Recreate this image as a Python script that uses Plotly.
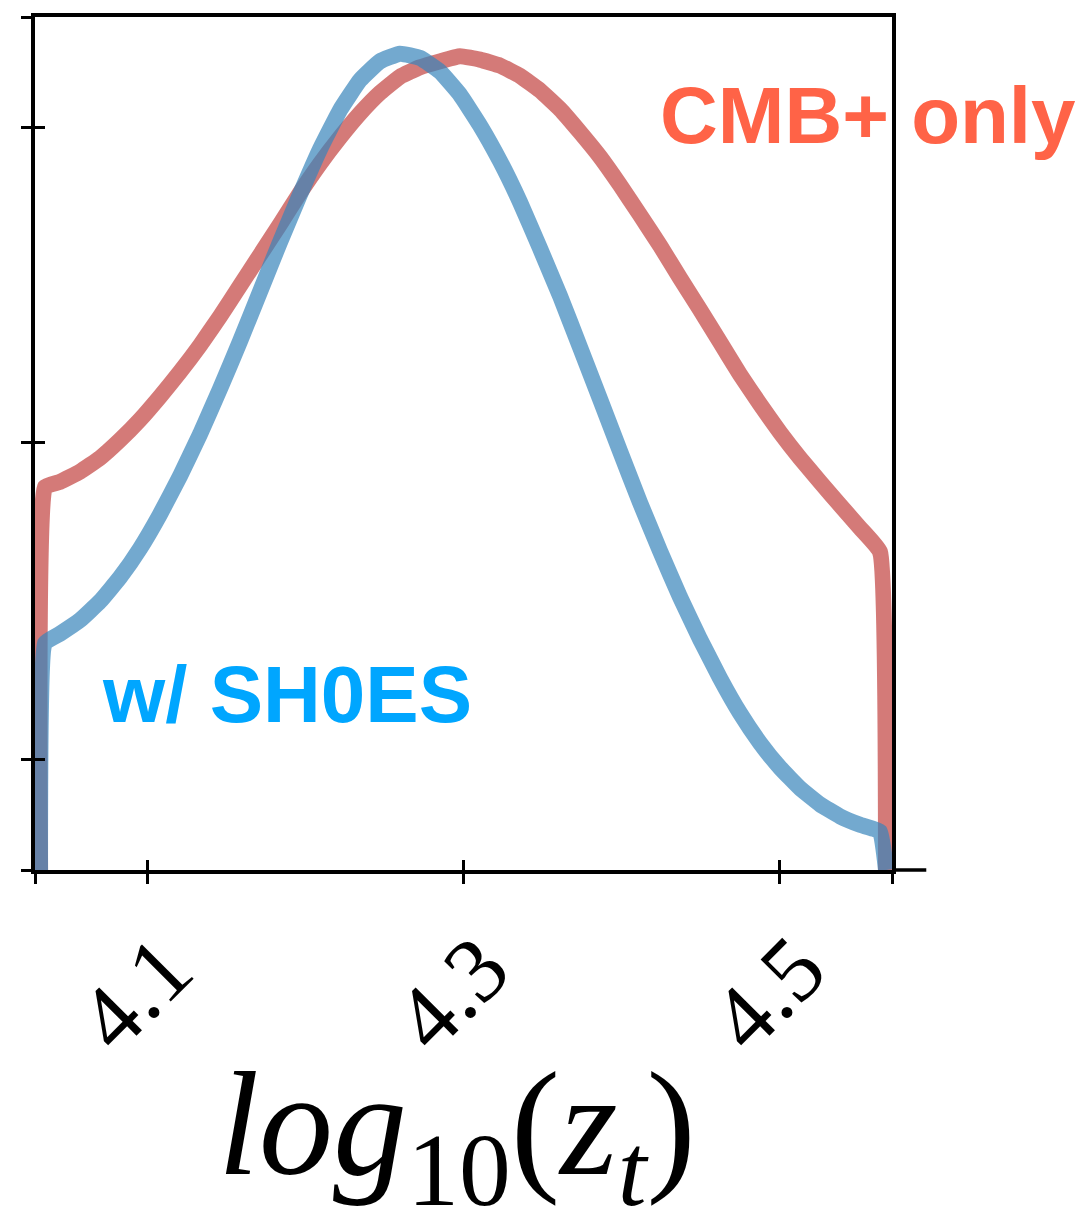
import plotly.graph_objects as go

# shared grid of log10(z_t) values
log10_zt = [4.0324, 4.0355, 4.0450, 4.0577, 4.0703, 4.0829, 4.0956, 4.1082, 4.1209,
            4.1335, 4.1461, 4.1588, 4.1714, 4.1840, 4.1967, 4.2093, 4.2220, 4.2346,
            4.2472, 4.2599, 4.2725, 4.2851, 4.2978, 4.3104, 4.3231, 4.3357, 4.3483,
            4.3610, 4.3736, 4.3863, 4.3989, 4.4115, 4.4242, 4.4368, 4.4494, 4.4621,
            4.4747, 4.4874, 4.5000, 4.5126, 4.5253, 4.5379, 4.5506, 4.5632, 4.5670]

# normalised 1D posterior, CMB+ only
p_cmb = [0.0, 0.449, 0.455, 0.467, 0.483, 0.504, 0.528, 0.555, 0.584, 0.615, 0.649,
         0.685, 0.721, 0.757, 0.794, 0.828, 0.859, 0.887, 0.911, 0.930, 0.941, 0.948,
         0.954, 0.950, 0.943, 0.931, 0.914, 0.892, 0.865, 0.836, 0.803, 0.768, 0.732,
         0.694, 0.657, 0.619, 0.581, 0.546, 0.513, 0.483, 0.455, 0.428, 0.401, 0.373, 0.0]

# normalised 1D posterior, with SH0ES
p_shoes = [0.0, 0.266, 0.277, 0.293, 0.315, 0.343, 0.377, 0.417, 0.462, 0.511, 0.564,
           0.620, 0.678, 0.736, 0.792, 0.845, 0.891, 0.926, 0.948, 0.957, 0.952, 0.936,
           0.909, 0.873, 0.831, 0.783, 0.729, 0.673, 0.613, 0.552, 0.491, 0.431, 0.374,
           0.320, 0.271, 0.225, 0.184, 0.149, 0.120, 0.096, 0.077, 0.063, 0.053, 0.045, 0.0]

x_range = [4.0292, 4.5708]
y_range = [0.0, 1.0]
x_ticks = [4.1, 4.3, 4.5]
x_tick_labels = ["4.1", "4.3", "4.5"]
y_ticks = [0.130, 0.5006, 0.871]

RED = "rgba(194,65,62,0.7)"
BLUE = "rgba(56,132,186,0.7)"

fig = go.Figure()
fig.add_trace(go.Scatter(x=log10_zt, y=p_cmb, mode="lines",
                         line=dict(color=RED, width=16, shape="spline", smoothing=0.35),
                         name="CMB+ only", showlegend=False))
fig.add_trace(go.Scatter(x=log10_zt, y=p_shoes, mode="lines",
                         line=dict(color=BLUE, width=16, shape="spline", smoothing=0.35),
                         name="w/ SH0ES", showlegend=False))
# empty trace to activate overlay axes (inside ticks)
fig.add_trace(go.Scatter(x=[], y=[], xaxis="x2", yaxis="y2", showlegend=False))

fig.update_layout(
    width=1081, height=1208,
    margin=dict(l=35, r=189, t=17, b=338),
    paper_bgcolor="white", plot_bgcolor="white",
    xaxis=dict(range=x_range, showgrid=False, zeroline=False,
               showline=True, linecolor="black", linewidth=3.5, mirror=True,
               ticks="outside", ticklen=10, tickwidth=3, tickcolor="black",
               tickvals=[x_range[0]] + x_ticks + [x_range[1]],
               ticktext=[""] + x_tick_labels + [""],
               tickangle=-45, ticklabelshift=18, ticklabelstandoff=-6,
               tickfont=dict(family="Liberation Serif", size=92, color="black")),
    yaxis=dict(range=y_range, showgrid=False, zeroline=False,
               showline=True, linecolor="black", linewidth=3.5, mirror=True,
               ticks="outside", ticklen=10, tickwidth=3, tickcolor="black",
               tickvals=[y_range[0]] + y_ticks + [y_range[1]],
               showticklabels=False),
    xaxis2=dict(range=x_range, overlaying="x", anchor="y", side="bottom",
                showgrid=False, zeroline=False, showline=False,
                ticks="inside", ticklen=10, tickwidth=3, tickcolor="black",
                tickvals=x_ticks, showticklabels=False),
    yaxis2=dict(range=y_range, overlaying="y", anchor="x", side="left",
                showgrid=False, zeroline=False, showline=False,
                ticks="inside", ticklen=10, tickwidth=3, tickcolor="black",
                tickvals=y_ticks, showticklabels=False),
    shapes=[dict(type="line", xref="paper", yref="paper", x0=1.0, x1=1.04,
                 y0=0, y1=0, line=dict(color="black", width=3.5))],
    annotations=[
        dict(text="<b>CMB+ only</b>", xref="paper", yref="paper",
             x=0.972, y=0.885, xanchor="center", yanchor="middle", showarrow=False,
             font=dict(family="Liberation Sans", size=80, color="#ff6347")),
        dict(text="<b>w/ SH0ES</b>", xref="paper", yref="paper",
             x=0.294, y=0.206, xanchor="center", yanchor="middle", showarrow=False,
             font=dict(family="Liberation Sans", size=80, color="rgb(0,166,255)")),
        dict(text="<i>log</i><sub>10</sub>(<i>z<sub>t</sub></i>)", xref="paper", yref="paper",
             x=0.492, y=-0.31, xanchor="center", yanchor="middle", showarrow=False,
             font=dict(family="Liberation Serif", size=148, color="black")),
    ],
)

fig.write_html("out.html")
